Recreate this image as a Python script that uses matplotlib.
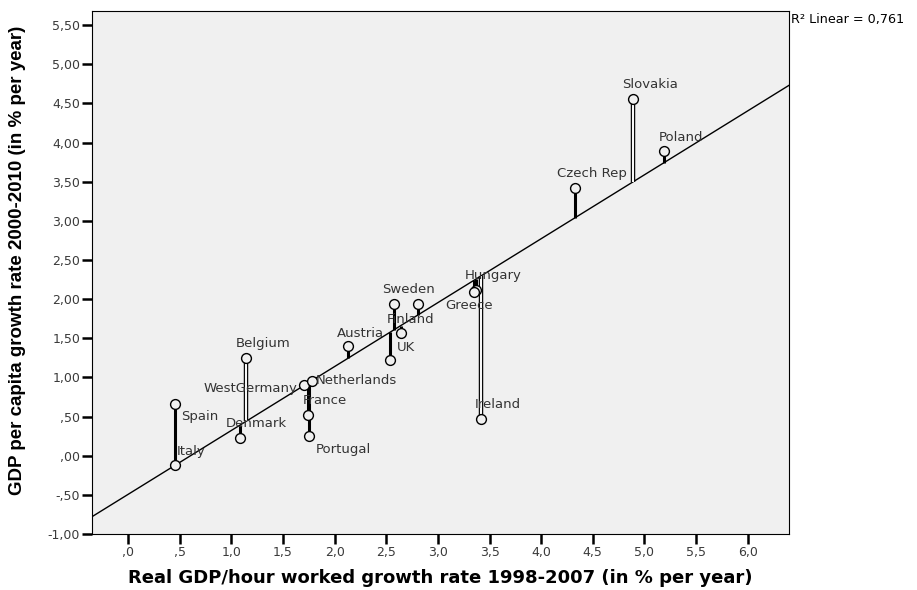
import numpy as np
import matplotlib
matplotlib.use('Agg')
import matplotlib.pyplot as plt

# productivity growth vs GDP per capita growth, one point per country
countries = ['Italy', 'Spain', 'Denmark', 'Belgium', 'WestGermany', 'Netherlands',
             'France', 'Portugal', 'Austria', 'Sweden', '', 'Finland', 'UK',
             'Hungary', 'Greece', 'Ireland', 'Czech Rep', 'Slovakia', 'Poland']
prod_growth = [0.45, 0.45, 1.08, 1.14, 1.70, 1.78, 1.74, 1.75, 2.13, 2.57, 2.81,
               2.64, 2.54, 3.37, 3.35, 3.42, 4.33, 4.89, 5.19]
gdp_growth = [-0.12, 0.66, 0.23, 1.25, 0.90, 0.95, 0.52, 0.25, 1.40, 1.94, 1.94,
              1.57, 1.22, 2.12, 2.09, 0.47, 3.42, 4.56, 3.89]
r2_text = 'R\u00b2 Linear = 0,761'

x_ticks = np.arange(0, 6.01, 0.5)
y_ticks = np.arange(-1.0, 5.51, 0.5)

# label placement (pixels from the marker), default is up and to the right
default_off = (17, 14, 'center')
label_off = {
    'Spain': (25, -12, 'center'),
    'WestGermany': (-6, -3, 'right'),
    'Netherlands': (4, 1, 'left'),
    'Portugal': (35, -13, 'center'),
    'Austria': (12, 13, 'center'),
    'Sweden': (15, 14, 'center'),
    'Finland': (10, 13, 'center'),
    'UK': (16, 13, 'center'),
    'Greece': (-5, -13, 'center'),
}
hollow = ['Belgium', 'Ireland', 'Slovakia']


def spss_fmt(v, nd):
    s = f'{v:.{nd}f}'.replace('.', ',')
    if s.startswith('0,'):
        s = s[1:]
    elif s.startswith('-0,'):
        s = '-' + s[2:]
    return s


x = np.array(prod_growth)
y = np.array(gdp_growth)
slope, icept = np.polyfit(x, y, 1)
fitted = icept + slope * x

fig = plt.figure(figsize=(9.17, 5.90), dpi=100)
ax = fig.add_axes([92/917, 1-534/590, 697/917, 523/590])
ax.set_facecolor('#f0f0f0')
ax.set_xlim(-0.35, 6.40)
ax.set_ylim(-1.0, 5.68)

# fit line
xx = np.array(ax.get_xlim())
ax.plot(xx, icept + slope * xx, color='black', lw=1.0, zorder=2)

# residual spikes
for name, xi, yi, fi in zip(countries, x, y, fitted):
    if name in hollow:
        ax.plot([xi, xi], [yi, fi], color='black', lw=3.2, solid_capstyle='butt', zorder=3)
        ax.plot([xi, xi], [yi, fi], color='#f8f8f8', lw=1.5, solid_capstyle='butt', zorder=3)
    else:
        ax.plot([xi, xi], [yi, fi], color='black', lw=2.2, solid_capstyle='butt', zorder=3)

ax.scatter(x, y, s=50, facecolor='#f0f0f0', edgecolor='black', linewidth=1.0, zorder=4)

for name, xi, yi in zip(countries, x, y):
    if not name:
        continue
    dx, dy, ha = label_off.get(name, default_off)
    ax.annotate(name, (xi, yi), xytext=(dx, dy), textcoords='offset pixels',
                ha=ha, va='center', fontsize=9.5, color='#333333',
                family='DejaVu Sans', zorder=5)

ax.set_xticks(x_ticks)
ax.set_xticklabels([spss_fmt(v, 1) for v in x_ticks])
ax.set_yticks(y_ticks)
ax.set_yticklabels([spss_fmt(v, 2) for v in y_ticks])
ax.tick_params(axis='both', direction='out', length=7, width=1.8, color='black',
               labelsize=9, labelcolor='#3a3a3a', pad=1.5)
for sp in ax.spines.values():
    sp.set_color('black')
    sp.set_linewidth(0.8)

ax.set_xlabel('Real GDP/hour worked growth rate 1998-2007 (in % per year)',
              fontsize=13, fontweight='bold', family='DejaVu Sans')
ax.set_ylabel('GDP per capita growth rate 2000-2010 (in % per year)',
              fontsize=13.5, fontweight='bold', family='Liberation Sans')
ax.yaxis.set_label_coords(-0.094, 0.524)
ax.xaxis.set_label_coords(0.5, -0.066)

fig.text(791/917, 1-20/590, r2_text, ha='left', va='center', fontsize=9.2,
         family='DejaVu Sans', color='black')

fig.savefig('out.png', dpi=100)
